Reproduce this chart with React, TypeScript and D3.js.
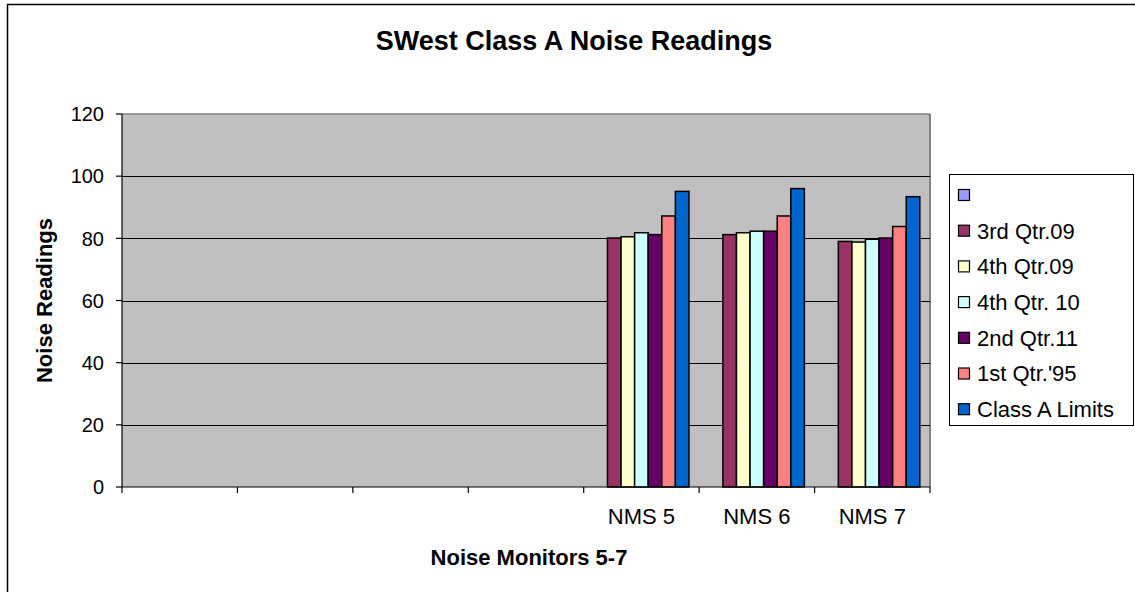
import React from 'react';
import * as d3 from 'd3';

// categories: first four slots are blank in the source chart
const categories = ['', '', '', '', 'NMS 5', 'NMS 6', 'NMS 7'];
const seriesNames = ['', '3rd Qtr.09', '4th Qtr.09', '4th Qtr. 10', '2nd Qtr.11', "1st Qtr.'95", 'Class A Limits'];
const seriesColors = ['#9999FF', '#993366', '#FFFFCC', '#CCFFFF', '#660066', '#FF8080', '#0066CC'];

const blank: (number | null)[] = [null, null, null, null, null, null, null];
const q3_09: (number | null)[] = [null, null, null, null, 80.1, 81.2, 79.0];
const q4_09: (number | null)[] = [null, null, null, null, 80.5, 81.8, 78.8];
const q4_10: (number | null)[] = [null, null, null, null, 81.8, 82.3, 79.7];
const q2_11: (number | null)[] = [null, null, null, null, 81.2, 82.3, 80.1];
const q1_95: (number | null)[] = [null, null, null, null, 87.2, 87.2, 83.8];
const classA: (number | null)[] = [null, null, null, null, 95.1, 96.0, 93.4];

const seriesValues = [blank, q3_09, q4_09, q4_10, q2_11, q1_95, classA];
const yTicks = [0, 20, 40, 60, 80, 100, 120];

const font = "'Liberation Sans', Arial, sans-serif";

export default function App() {
  const width = 1135;
  const height = 592;
  const plot = { left: 122, right: 930, top: 114, bottom: 487 };

  const x = d3.scaleBand<number>()
    .domain(categories.map((_, i) => i))
    .range([plot.left, plot.right])
    .padding(0);

  // 150% gap width between groups, like the spreadsheet default
  const xInner = d3.scaleBand<number>()
    .domain(seriesNames.map((_, i) => i))
    .range([0, x.bandwidth()])
    .paddingInner(0)
    .paddingOuter(0.75);

  const y = d3.scaleLinear().domain([0, 120]).range([plot.bottom, plot.top]);

  const tickEdges = d3.range(categories.length + 1).map(i => plot.left + i * x.step());

  return (
    <svg width={width} height={height} style={{ position: 'absolute', left: 0, top: 0, fontFamily: font }}>
      <rect x={0} y={0} width={width} height={height} fill="#fff" />
      <rect x={7.5} y={4.5} width={1140} height={600} fill="#fff" stroke="#000" strokeWidth={1.5} />

      <text x={574} y={50} textAnchor="middle" fontSize={27} fontWeight="bold">SWest Class A Noise Readings</text>

      {/* plot area */}
      <rect x={plot.left} y={plot.top} width={plot.right - plot.left} height={plot.bottom - plot.top} fill="#C0C0C0" />
      <line x1={plot.left} x2={plot.right} y1={plot.top} y2={plot.top} stroke="#808080" strokeWidth={1.5} />
      <line x1={plot.right} x2={plot.right} y1={plot.top} y2={plot.bottom} stroke="#808080" strokeWidth={2} />

      {yTicks.filter(t => t > 0 && t < 120).map(t => (
        <line key={t} x1={plot.left} x2={plot.right} y1={Math.round(y(t)) + 0.5} y2={Math.round(y(t)) + 0.5} stroke="#000" strokeWidth={1} />
      ))}

      {/* bars */}
      {seriesValues.map((vals, s) => (
        <g key={s}>
          {vals.map((v, c) => v == null ? null : (
            <rect key={c}
              x={(x(c) ?? 0) + (xInner(s) ?? 0)}
              y={y(v)}
              width={xInner.bandwidth()}
              height={y(0) - y(v)}
              fill={seriesColors[s]}
              stroke="#000"
              strokeWidth={1.5} />
          ))}
        </g>
      ))}

      {/* y axis */}
      <line x1={plot.left} x2={plot.left} y1={plot.top} y2={plot.bottom} stroke="#000" strokeWidth={1.2} />
      {yTicks.map(t => (
        <g key={t}>
          <line x1={plot.left - 6} x2={plot.left} y1={y(t)} y2={y(t)} stroke="#000" strokeWidth={1.2} />
          <text x={104} y={y(t)} dy="0.36em" textAnchor="end" fontSize={20}>{t}</text>
        </g>
      ))}

      {/* x axis */}
      <line x1={plot.left} x2={plot.right} y1={plot.bottom} y2={plot.bottom} stroke="#000" strokeWidth={1.2} />
      {tickEdges.map((tx, i) => (
        <line key={i} x1={tx} x2={tx} y1={plot.bottom} y2={plot.bottom + 6} stroke="#000" strokeWidth={1.2} />
      ))}
      {categories.map((c, i) => (
        <text key={i} x={(x(i) ?? 0) + x.bandwidth() / 2} y={524} textAnchor="middle" fontSize={22}>{c}</text>
      ))}

      <text x={(plot.left + plot.right) / 2 + 3} y={565} textAnchor="middle" fontSize={22} fontWeight="bold">Noise Monitors 5-7</text>
      <text transform={`translate(52,${(plot.top + plot.bottom) / 2}) rotate(-90)`} textAnchor="middle" fontSize={22} fontWeight="bold">Noise Readings</text>

      {/* legend */}
      <rect x={949.5} y={174.5} width={184} height={251} fill="#fff" stroke="#000" strokeWidth={1} />
      {seriesNames.map((n, i) => {
        const cy = 195 + i * 35.7;
        return (
          <g key={i}>
            <rect x={958.5} y={cy - 5.5} width={11} height={11} fill={seriesColors[i]} stroke="#000" strokeWidth={1.2} />
            <text x={977} y={cy} dy="0.36em" fontSize={22}>{n}</text>
          </g>
        );
      })}
    </svg>
  );
}
